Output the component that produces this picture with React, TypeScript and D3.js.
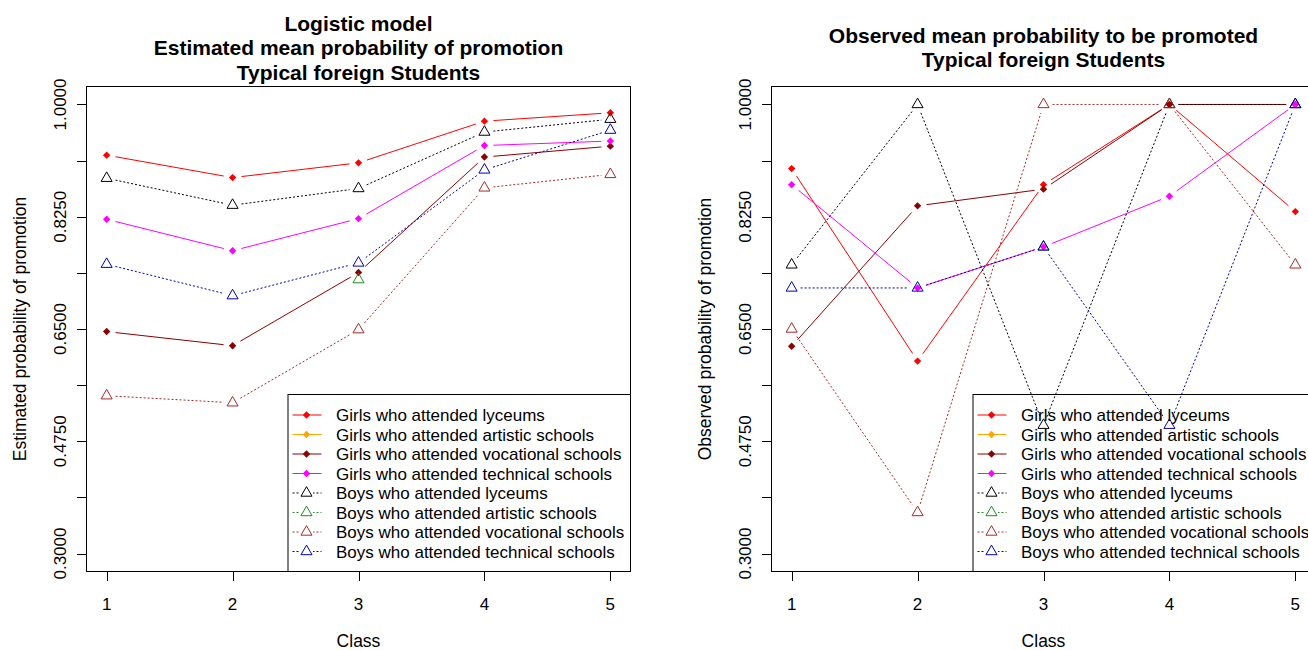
import React from "react";
import * as d3 from "d3";

// ---- data ----------------------------------------------------------------
const classes = [1, 2, 3, 4, 5];

const seriesNames = [
  "Girls who attended lyceums",
  "Girls who attended artistic schools",
  "Girls who attended vocational schools",
  "Girls who attended technical schools",
  "Boys who attended lyceums",
  "Boys who attended artistic schools",
  "Boys who attended vocational schools",
  "Boys who attended technical schools",
];
const seriesColors = ["#FF0000", "#FFA500", "#8B0000", "#FF00FF", "#000000", "#228B22", "#A52A2A", "#0000B4"];
const seriesIsBoys = [false, false, false, false, true, true, true, true];

type V = number | null;

// Logistic model: estimated mean probability of promotion
const estGirlsLyceum: V[] = [0.921, 0.886, 0.909, 0.974, 0.987];
const estGirlsArtistic: V[] = [null, null, null, null, null];
const estGirlsVocational: V[] = [0.646, 0.624, 0.738, 0.918, 0.935];
const estGirlsTechnical: V[] = [0.821, 0.772, 0.822, 0.936, 0.943];
const estBoysLyceum: V[] = [0.885, 0.843, 0.869, 0.957, 0.977];
const estBoysArtistic: V[] = [null, null, 0.727, null, null];
const estBoysVocational: V[] = [0.546, 0.535, 0.649, 0.870, 0.891];
const estBoysTechnical: V[] = [0.751, 0.702, 0.753, 0.898, 0.960];

// Observed mean probability to be promoted
const obsGirlsLyceum: V[] = [0.9, 0.6, 0.875, 1.0, 0.833];
const obsGirlsArtistic: V[] = [null, null, null, null, null];
const obsGirlsVocational: V[] = [0.623, 0.842, 0.868, 1.0, 1.0];
const obsGirlsTechnical: V[] = [0.875, 0.714, 0.778, 0.857, 1.0];
const obsBoysLyceum: V[] = [0.75, 1.0, 0.5, 1.0, 1.0];
const obsBoysArtistic: V[] = [null, null, 0.778, null, null];
const obsBoysVocational: V[] = [0.65, 0.364, 1.0, 1.0, 0.75];
const obsBoysTechnical: V[] = [0.714, 0.714, 0.778, 0.5, 1.0];

const estimated = [estGirlsLyceum, estGirlsArtistic, estGirlsVocational, estGirlsTechnical, estBoysLyceum, estBoysArtistic, estBoysVocational, estBoysTechnical];
const observed = [obsGirlsLyceum, obsGirlsArtistic, obsGirlsVocational, obsGirlsTechnical, obsBoysLyceum, obsBoysArtistic, obsBoysVocational, obsBoysTechnical];

const yTicks = [0.3, 0.3875, 0.475, 0.5625, 0.65, 0.7375, 0.825, 0.9125, 1.0];
const yTickLabelled = [true, false, true, false, true, false, true, false, true];

// ---- layout ----------------------------------------------------------------
const W = 1308;
const H = 650;
const PANEL_W = 685;
const BOX = { left: 86.5, right: 630.5, top: 86.5, bottom: 571.5 };
const FONT = "'Liberation Sans', Arial, Helvetica, sans-serif";
const GAP = 9; // type="b" gap between segments and points
const DOTS = "2,2";

function trianglePath(cx: number, cy: number) {
  const xc = 4.1;
  const r = 1.5551 * xc;
  const hw = 1.3468 * xc;
  const yc = 0.7776 * xc;
  return `M${cx},${cy - r}L${cx + hw},${cy + yc}L${cx - hw},${cy + yc}Z`;
}
function diamondPath(cx: number, cy: number) {
  const s = 3.7;
  return `M${cx},${cy - s}L${cx + s},${cy}L${cx},${cy + s}L${cx - s},${cy}Z`;
}

function Marker({ x, y, color, boys }: { x: number; y: number; color: string; boys: boolean }) {
  return boys ? (
    <path d={trianglePath(x, y)} fill="none" stroke={color} strokeWidth={1} />
  ) : (
    <path d={diamondPath(x, y)} fill={color} stroke="none" />
  );
}

function Panel({ offset, titles, titleCenterY, yLabel, data }: { offset: number; titles: string[]; titleCenterY: number; yLabel: string; data: V[][] }) {
  const left = BOX.left + offset;
  const right = BOX.right + offset;
  const x = d3.scaleLinear().domain([0.84, 5.16]).range([left, right]);
  const y = d3.scaleLinear().domain([0.272, 1.028]).range([BOX.bottom, BOX.top]);
  const cx = (left + right) / 2;
  const cy = (BOX.top + BOX.bottom) / 2;
  const lineH = 24.5;
  const firstTitleY = titleCenterY - ((titles.length - 1) * lineH) / 2;

  const legLeft = right - 342.5;
  const legTop = 394.5;

  return (
    <g>
      {/* titles */}
      {titles.map((t, i) => (
        <text key={i} x={cx} y={firstTitleY + i * lineH + 7.5} textAnchor="middle" fontFamily={FONT} fontWeight="bold" fontSize={21} fill="#000">
          {t}
        </text>
      ))}

      {/* series */}
      {data.map((vals, si) => {
        const color = seriesColors[si];
        const boys = seriesIsBoys[si];
        const pts = classes.map((c, i) => (vals[i] == null ? null : [x(c), y(vals[i] as number)]));
        const segs: JSX.Element[] = [];
        for (let i = 0; i < pts.length - 1; i++) {
          const a = pts[i];
          const b = pts[i + 1];
          if (!a || !b) continue;
          const dx = b[0] - a[0];
          const dy = b[1] - a[1];
          const d = Math.hypot(dx, dy);
          if (d <= 2 * GAP) continue;
          const ux = dx / d;
          const uy = dy / d;
          segs.push(
            <line key={i} x1={a[0] + ux * GAP} y1={a[1] + uy * GAP} x2={b[0] - ux * GAP} y2={b[1] - uy * GAP} stroke={color} strokeWidth={1} strokeDasharray={boys ? DOTS : undefined} />
          );
        }
        return (
          <g key={si}>
            {segs}
            {pts.map((p, i) => (p ? <Marker key={i} x={p[0]} y={p[1]} color={color} boys={boys} /> : null))}
          </g>
        );
      })}

      {/* box */}
      <rect x={left} y={BOX.top} width={right - left} height={BOX.bottom - BOX.top} fill="none" stroke="#000" strokeWidth={1} />

      {/* x axis */}
      {classes.map((c) => (
        <g key={c}>
          <line x1={Math.round(x(c)) + 0.5} x2={Math.round(x(c)) + 0.5} y1={BOX.bottom} y2={BOX.bottom + 9.5} stroke="#000" strokeWidth={1} />
          <text x={x(c)} y={610} textAnchor="middle" fontFamily={FONT} fontSize={17} fill="#000">
            {c}
          </text>
        </g>
      ))}
      <text x={cx} y={646.5} textAnchor="middle" fontFamily={FONT} fontSize={17.5} fill="#000">
        Class
      </text>

      {/* y axis */}
      {yTicks.map((t, i) => (
        <g key={t}>
          <line x1={left - 9.5} x2={left} y1={Math.round(y(t)) + 0.5} y2={Math.round(y(t)) + 0.5} stroke="#000" strokeWidth={1} />
          {yTickLabelled[i] && (
            <text transform={`translate(${left - 21},${y(t)}) rotate(-90)`} textAnchor="middle" fontFamily={FONT} fontSize={17} fill="#000">
              {d3.format(".4f")(t)}
            </text>
          )}
        </g>
      ))}
      <text transform={`translate(${offset + 26},${cy}) rotate(-90)`} textAnchor="middle" fontFamily={FONT} fontSize={17.5} fill="#000">
        {yLabel}
      </text>

      {/* legend */}
      <rect x={legLeft} y={legTop} width={right - legLeft} height={BOX.bottom - legTop} fill="none" stroke="#000" strokeWidth={1} />
      {seriesNames.map((name, i) => {
        const ey = 415 + i * 19.5;
        const color = seriesColors[i];
        const boys = seriesIsBoys[i];
        return (
          <g key={name}>
            <line x1={legLeft + 4.5} x2={legLeft + 33.5} y1={ey} y2={ey} stroke={color} strokeWidth={1} strokeDasharray={boys ? DOTS : undefined} />
            {boys && <rect x={legLeft + 12} y={ey - 7} width={13} height={10} fill="#fff" />}
            <Marker x={legLeft + 18.5} y={ey} color={color} boys={boys} />
            <text x={legLeft + 48} y={ey + 6} fontFamily={FONT} fontSize={17} fill="#000">
              {name}
            </text>
          </g>
        );
      })}
    </g>
  );
}

export default function App() {
  return (
    <div style={{ position: "absolute", left: 0, top: 0, width: W, height: H, background: "#fff" }}>
      <svg width={W} height={H} viewBox={`0 0 ${W} ${H}`} style={{ display: "block" }}>
        <rect x={0} y={0} width={W} height={H} fill="#fff" />
        <Panel
          offset={0}
          titles={["Logistic model", "Estimated mean probability of promotion", "Typical foreign Students"]}
          titleCenterY={47.5}
          yLabel="Estimated probability of promotion"
          data={estimated}
        />
        <Panel
          offset={PANEL_W}
          titles={["Observed mean probability to be promoted", "Typical foreign Students"]}
          titleCenterY={47.5}
          yLabel="Observed probability of promotion"
          data={observed}
        />
      </svg>
    </div>
  );
}
